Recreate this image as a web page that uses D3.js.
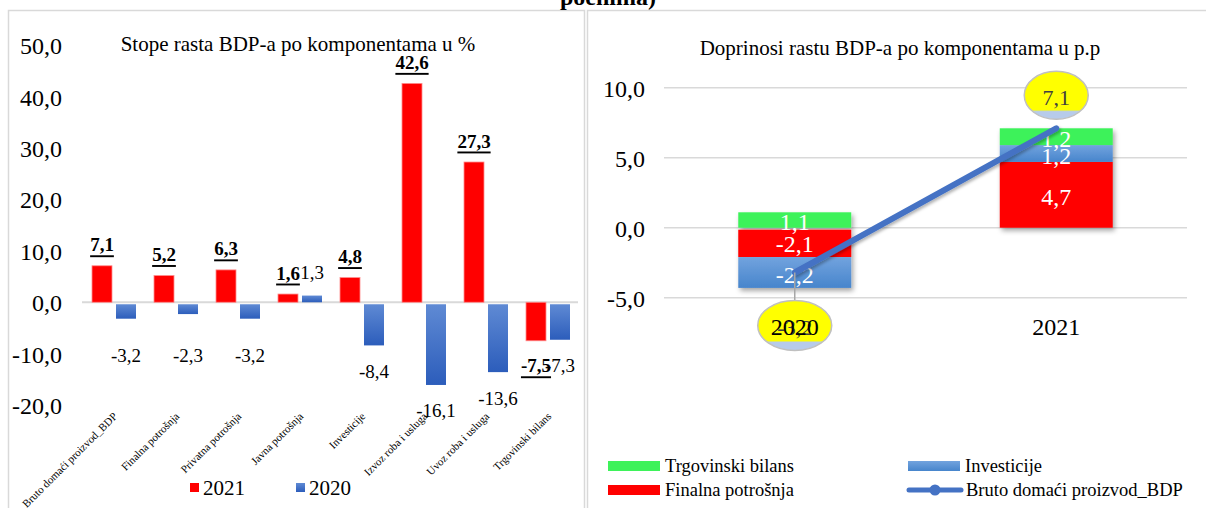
<!DOCTYPE html>
<html><head><meta charset="utf-8">
<script src="https://cdn.jsdelivr.net/npm/d3@7"></script>
<style>
html,body{margin:0;padding:0;background:#fff;}
svg, svg text{font-family:"Liberation Serif","Times New Roman",Tinos,"DejaVu Serif",serif !important;}
</style></head>
<body>
<svg id="chart" width="1206" height="508" font-family="Liberation Serif, Times New Roman, serif"></svg>
<script>
// ---- Left chart data ----
const categories = ["Bruto domaći proizvod_BDP","Finalna potrošnja","Privatna potrošnja","Javna potrošnja","Investicije","Izvoz roba i usluga","Uvoz roba i usluga","Trgovinski bilans"];
const values2021 = [7.1, 5.2, 6.3, 1.6, 4.8, 42.6, 27.3, -7.5];
const values2020 = [-3.2, -2.3, -3.2, 1.3, -8.4, -16.1, -13.6, -7.3];
const leftTicks = [-20, -10, 0, 10, 20, 30, 40, 50];
const leftSeries = ["2021", "2020"];

// ---- Right chart data ----
const years = ["2020", "2021"];
const finalnaPotrosnja = [-2.1, 4.7];
const investicije = [-2.2, 1.2];
const trgovinskiBilans = [1.1, 1.2];
const brutoBDP = [-3.2, 7.1];
const rightTicks = [-5, 0, 5, 10];
const rightKeys = ["Finalna potrošnja", "Investicije", "Trgovinski bilans"];

const FONT = "Liberation Serif";
const fmt = v => d3.format(".1f")(v).replace(".", ",").replace("−", "-");
const svg = d3.select("#chart");
const defs = svg.append("defs");

const g1 = defs.append("linearGradient").attr("id","blueL").attr("x1",0).attr("y1",0).attr("x2",0).attr("y2",1);
g1.append("stop").attr("offset","0%").attr("stop-color","#5f8ad4");
g1.append("stop").attr("offset","100%").attr("stop-color","#2c5dbb");
const g2 = defs.append("linearGradient").attr("id","blueR").attr("x1",0).attr("y1",0).attr("x2",0).attr("y2",1);
g2.append("stop").attr("offset","0%").attr("stop-color","#72a3de");
g2.append("stop").attr("offset","100%").attr("stop-color","#4785cc");
const g3 = defs.append("linearGradient").attr("id","bubble").attr("x1",0).attr("y1",0).attr("x2",0).attr("y2",1);
g3.append("stop").attr("offset","0%").attr("stop-color","#ffff00");
g3.append("stop").attr("offset","80%").attr("stop-color","#ffff00");
g3.append("stop").attr("offset","84%").attr("stop-color","#b7cbea");
g3.append("stop").attr("offset","100%").attr("stop-color","#b7cbea");
const sh = defs.append("filter").attr("id","shadow").attr("x","-20%").attr("y","-20%").attr("width","150%").attr("height","150%");
sh.append("feDropShadow").attr("dx",2).attr("dy",3).attr("stdDeviation",2.5).attr("flood-color","#000").attr("flood-opacity",0.35);
const sh2 = defs.append("filter").attr("id","lshadow").attr("x","-20%").attr("y","-20%").attr("width","150%").attr("height","150%");
sh2.append("feDropShadow").attr("dx",1.5).attr("dy",2).attr("stdDeviation",1.5).attr("flood-color","#000").attr("flood-opacity",0.3);

// panel borders
svg.append("rect").attr("x",8.5).attr("y",10.5).attr("width",576).attr("height",520)
  .attr("fill","none").attr("stroke","#d9d9d9").attr("stroke-width",1.5);
svg.append("rect").attr("x",587.5).attr("y",10.5).attr("width",640).attr("height",520)
  .attr("fill","none").attr("stroke","#d9d9d9").attr("stroke-width",1.5);

// cut title
svg.append("text").attr("x",560).attr("y",5).attr("font-size",24).attr("font-weight","bold")
  .attr("font-family",FONT).attr("fill","#000").text("poenima)");

// ================= LEFT CHART =================
const yL = d3.scaleLinear().domain([-20, 50]).range([405.0, 45.4]);
const xL = d3.scaleBand().domain(categories).range([82, 578]);
const xL1 = d3.scaleBand().domain(leftSeries).range([10, 54]).paddingInner(1/6);

svg.append("text").attr("x",298).attr("y",44).attr("text-anchor","middle").attr("dominant-baseline","central")
  .attr("font-family",FONT).attr("font-size",21).text("Stope rasta BDP-a po komponentama u %");

const axL = svg.append("g").attr("transform","translate(62,0)")
  .call(d3.axisLeft(yL).tickValues(leftTicks).tickFormat(fmt).tickSize(0).tickPadding(0));
axL.attr("font-family",FONT);
axL.select(".domain").remove();
axL.selectAll("text").attr("font-family",FONT).attr("font-size",24).attr("fill","#000").attr("dy","0.35em");

svg.append("line").attr("x1",82).attr("x2",578).attr("y1",yL(0)).attr("y2",yL(0))
  .attr("stroke","#d9d9d9").attr("stroke-width",2);

const leftData = categories.map((c,i)=>({c, v21: values2021[i], v20: values2020[i]}));
const barsL = svg.append("g");
barsL.selectAll("rect.r").data(leftData).join("rect").attr("class","r")
  .attr("x", d=>xL(d.c)+xL1("2021")).attr("width", xL1.bandwidth())
  .attr("y", d=>yL(Math.max(0,d.v21))).attr("height", d=>Math.abs(yL(d.v21)-yL(0)))
  .attr("fill","#ff0000").attr("stroke","#ff8c8c").attr("stroke-width",0.8);
barsL.selectAll("rect.b").data(leftData).join("rect").attr("class","b")
  .attr("x", d=>xL(d.c)+xL1("2020")).attr("width", xL1.bandwidth())
  .attr("y", d=>yL(Math.max(0,d.v20))+(d.v20<0?2:0)).attr("height", d=>Math.abs(yL(d.v20)-yL(0))-(d.v20<0?2:0))
  .attr("fill","url(#blueL)");

// 2020 labels
svg.append("g").selectAll("text").data(leftData).join("text")
  .attr("x", d=>xL(d.c)+xL1("2020")+xL1.bandwidth()/2)
  .attr("y", d=> d.v20>=0 ? yL(d.v20)-23 : Math.max(yL(d.v20)+26, yL(-10)+2))
  .attr("text-anchor","middle").attr("dominant-baseline","central")
  .attr("font-family",FONT).attr("font-size",19).attr("fill","#000").text(d=>fmt(d.v20));
// 2021 labels
svg.append("g").selectAll("text").data(leftData).join("text")
  .attr("x", d=>xL(d.c)+xL1("2021")+xL1.bandwidth()/2)
  .attr("y", d=> d.v21>=0 ? yL(d.v21)-21 : yL(d.v21)+25)
  .attr("text-anchor","middle").attr("dominant-baseline","central")
  .attr("font-family",FONT).attr("font-size",19).attr("font-weight","bold").style("text-decoration","underline")
  .attr("fill","#000").text(d=>fmt(d.v21));

// category labels
svg.append("g").selectAll("text").data(categories).join("text")
  .attr("transform", d=>`translate(${xL(d)+xL.bandwidth()/2+5},417) rotate(-45)`)
  .attr("text-anchor","end").attr("font-family",FONT).attr("font-size",11).attr("fill","#000").text(d=>d);

// left legend
const legL = svg.append("g");
[["2021","#ff0000",190],["2020","url(#blueL)",296]].forEach(([t,c,x])=>{
  legL.append("rect").attr("x",x).attr("y",483).attr("width",9).attr("height",9).attr("fill",c);
  legL.append("text").attr("x",x+13).attr("y",488).attr("dominant-baseline","central")
    .attr("font-family",FONT).attr("font-size",21).text(t);
});

// ================= RIGHT CHART =================
const yR = d3.scaleLinear().domain([-5, 10]).range([297.7, 87.7]);
const xR = d3.scaleBand().domain(years).range([664, 1187]).paddingInner(0.568).paddingOuter(0.284);

svg.append("text").attr("x",900).attr("y",48).attr("text-anchor","middle").attr("dominant-baseline","central")
  .attr("font-family",FONT).attr("font-size",21).text("Doprinosi rastu BDP-a po komponentama u p.p");

const axR = svg.append("g").attr("transform","translate(645,0)")
  .call(d3.axisLeft(yR).tickValues(rightTicks).tickFormat(fmt).tickSize(0).tickPadding(0));
axR.attr("font-family",FONT);
axR.select(".domain").remove();
axR.selectAll("text").attr("font-family",FONT).attr("font-size",24).attr("fill","#000").attr("dy","0.35em");

svg.append("g").selectAll("line").data(rightTicks).join("line")
  .attr("x1",664).attr("x2",1187).attr("y1",d=>yR(d)).attr("y2",d=>yR(d))
  .attr("stroke","#d9d9d9").attr("stroke-width",1.5);

const rightRows = years.map((y,i)=>({year:y, "Finalna potrošnja":finalnaPotrosnja[i], "Investicije":investicije[i], "Trgovinski bilans":trgovinskiBilans[i]}));
const stack = d3.stack().keys(rightKeys).offset(d3.stackOffsetDiverging)(rightRows);
const colR = {"Finalna potrošnja":"#ff0000","Investicije":"url(#blueR)","Trgovinski bilans":"#3ef25a"};

const barG = svg.append("g");
years.forEach((yr,i)=>{
  const gg = barG.append("g").attr("filter","url(#shadow)");
  stack.forEach(s=>{
    const d = s[i];
    const top = yR(Math.max(d[0],d[1])), bot = yR(Math.min(d[0],d[1]));
    const gapTop = (Math.max(d[0],d[1])<=0 && Math.abs(Math.max(d[0],d[1]))<1e-9 && rightRows[i]["Trgovinski bilans"]>0 && s.key!=="Trgovinski bilans") ? 2 : 0;
    gg.append("rect").attr("x",xR(yr)).attr("width",xR.bandwidth())
      .attr("y",top+gapTop).attr("height",bot-top-gapTop).attr("fill",colR[s.key]);
  });
});
// segment labels
years.forEach((yr,i)=>{
  stack.forEach(s=>{
    const d = s[i];
    svg.append("text").attr("x",xR(yr)+xR.bandwidth()/2).attr("y",yR((d[0]+d[1])/2)+2)
      .attr("text-anchor","middle").attr("dominant-baseline","central")
      .attr("font-family",FONT).attr("font-size",24).attr("fill","#fff").text(fmt(d.data[s.key]));
  });
});

// line
const lineData = years.map((y,i)=>({year:y, v:brutoBDP[i]}));
const lineGen = d3.line().x(d=>xR(d.year)+xR.bandwidth()/2).y(d=>yR(d.v));
svg.append("path").datum(lineData).attr("d",lineGen).attr("fill","none")
  .attr("stroke","#4472c4").attr("stroke-width",6).attr("stroke-linecap","round").attr("filter","url(#lshadow)");

// bubble labels
const cx0 = xR("2020")+xR.bandwidth()/2, cx1 = xR("2021")+xR.bandwidth()/2;
svg.append("line").attr("x1",cx0).attr("x2",cx0).attr("y1",yR(brutoBDP[0])).attr("y2",yR(brutoBDP[0])+28)
  .attr("stroke","#a6a6a6").attr("stroke-width",1.5);
const bubbles = [
  {x:cx0, y:yR(brutoBDP[0])+53, rx:37, ry:25, v:brutoBDP[0]},
  {x:cx1, y:yR(brutoBDP[1])-33, rx:32, ry:24, v:brutoBDP[1]}
];
bubbles.forEach(b=>{
  svg.append("ellipse").attr("cx",b.x).attr("cy",b.y).attr("rx",b.rx).attr("ry",b.ry)
    .attr("fill","url(#bubble)").attr("stroke","#c0c0c0").attr("stroke-width",1.5);
  svg.append("text").attr("x",b.x).attr("y",b.y+2).attr("text-anchor","middle").attr("dominant-baseline","central")
    .attr("font-family",FONT).attr("font-size",22).attr("fill","#404040").text(fmt(b.v));
});

// x-axis labels
svg.append("g").selectAll("text").data(years).join("text")
  .attr("x", d=>xR(d)+xR.bandwidth()/2).attr("y",327).attr("text-anchor","middle").attr("dominant-baseline","central")
  .attr("font-family",FONT).attr("font-size",24).attr("fill","#000").text(d=>d);

// right legend
const legR = svg.append("g");
const legItems = [
  {t:"Trgovinski bilans", c:"#3ef25a", x:608, y:466},
  {t:"Investicije", c:"url(#blueR)", x:908, y:466},
  {t:"Finalna potrošnja", c:"#ff0000", x:608, y:490},
];
legItems.forEach(l=>{
  legR.append("rect").attr("x",l.x).attr("y",l.y-5).attr("width",52).attr("height",10).attr("fill",l.c);
  legR.append("text").attr("x",l.x+57).attr("y",l.y).attr("dominant-baseline","central")
    .attr("font-family",FONT).attr("font-size",18.5).text(l.t);
});
legR.append("line").attr("x1",909).attr("x2",961).attr("y1",490).attr("y2",490)
  .attr("stroke","#4472c4").attr("stroke-width",5).attr("stroke-linecap","round");
legR.append("circle").attr("cx",935).attr("cy",490).attr("r",5.5).attr("fill","#4472c4");
legR.append("text").attr("x",966).attr("y",490).attr("dominant-baseline","central")
  .attr("font-family",FONT).attr("font-size",18.5).text("Bruto domaći proizvod_BDP");
</script>
</body></html>
